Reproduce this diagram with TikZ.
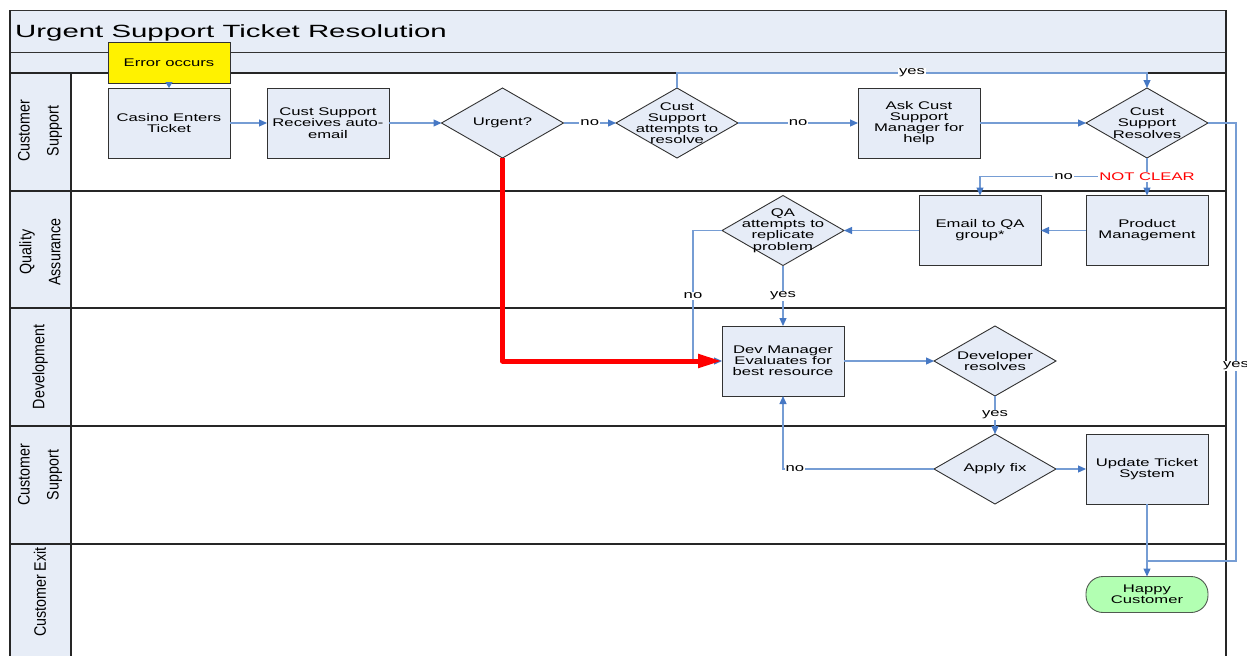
\documentclass[tikz,border=0pt]{standalone}
\usepackage{fontspec}
\setmainfont{Liberation Sans}
\newfontfamily\boxfont[FakeStretch=1.50]{Liberation Sans}
\newfontfamily\titlefont[FakeStretch=1.66]{Liberation Sans}
\newfontfamily\lanefont[FakeStretch=0.86]{Liberation Sans}
\usetikzlibrary{shapes.geometric,arrows.meta}
\definecolor{boxfill}{RGB}{230,236,247}
\definecolor{bandfill}{RGB}{231,237,247}
\definecolor{edgegray}{RGB}{50,50,50}
\definecolor{lineblue}{RGB}{118,157,212}
\definecolor{tipblue}{RGB}{70,120,196}
\definecolor{happyfill}{RGB}{178,255,178}
\definecolor{happyedge}{RGB}{80,90,80}
\tikzset{
 procbox/.style={rectangle, draw=edgegray, line width=0.9pt, fill=boxfill, minimum width=122pt, minimum height=70pt, inner sep=1pt, outer sep=0pt, align=center, font=\boxfont\fontsize{11.1}{11.2}\selectfont},
 decision/.style={diamond, draw=edgegray, line width=0.9pt, fill=boxfill, minimum width=122pt, minimum height=70pt, inner sep=0pt, outer sep=0pt},
 dtext/.style={inner sep=0pt, align=center, font=\boxfont\fontsize{11.1}{11.2}\selectfont},
 conn/.style={draw=lineblue, line width=1.2pt, -{Triangle[length=8pt,width=7pt,color=tipblue]}},
 plainconn/.style={draw=lineblue, line width=1.2pt},
 lbl/.style={fill=white, inner sep=1pt, font=\boxfont\fontsize{11.1}{11.2}\selectfont},
 lanelbl/.style={rotate=90, align=center, inner sep=0pt, font=\lanefont\fontsize{16.6}{29}\selectfont},
 laneline/.style={draw=black!85, line width=1.3pt},
 urgentpath/.style={draw=red, line width=5pt, line join=round, -{Triangle[length=24pt,width=13pt,color=red]}},
}
\begin{document}
\begin{tikzpicture}[x=1pt,y=-1pt]
\useasboundingbox (0,0) rectangle (1247,656);
% bands and lanes
\draw[fill=bandfill, draw=edgegray, line width=1pt] (10,10) rectangle (1226,52);
\draw[fill=bandfill, draw=edgegray, line width=1pt] (10,52) rectangle (1226,73);
\fill[bandfill] (10,73) rectangle (71,656);
\draw[laneline] (10,10) -- (10,656);
\draw[laneline] (71,73) -- (71,656);
\draw[laneline] (1226,10) -- (1226,656);
\foreach \yy in {73,191,308,426,544} \draw[laneline] (10,\yy) -- (1226,\yy);
\node[anchor=base west, inner sep=0pt, font=\titlefont\fontsize{17.7}{20}\selectfont] (title) at (15,37.7) {Urgent Support Ticket Resolution};
% lane labels
\node[lanelbl] (lane1) at (40,131) {Customer\\Support};
\node[lanelbl] (lane2) at (40,252) {Quality\\Assurance};
\node[lanelbl] (lane3) at (40,367) {Development};
\node[lanelbl] (lane4) at (40,475) {Customer\\Support};
\node[lanelbl] (lane5) at (40,592) {Customer Exit};
% nodes
\node[procbox] (casino) at (169,123) {Casino Enters\\Ticket};
\node[procbox] (csra) at (328,123) {Cust Support\\Receives auto-\\email};
\node[decision] (urgent) at (502.5,123) {};
\node[dtext] (urgentt) at (urgent) {Urgent?};
\node[decision] (cstry) at (677,123) {};
\node[dtext] (cstryt) at (cstry) {Cust\\Support\\attempts to\\resolve};
\node[procbox] (ask) at (919,123) {Ask Cust\\Support\\Manager for\\help};
\node[decision] (csr) at (1147,123) {};
\node[dtext] (csrt) at (csr) {Cust\\Support\\Resolves};
\node[procbox] (email) at (980,230.5) {Email to QA\\group*};
\node[procbox] (pm) at (1147,230.5) {Product\\Management};
\node[decision] (qa) at (783,230.5) {};
\node[dtext] (qat) at (qa) {QA\\attempts to\\replicate\\problem};
\node[procbox] (dev) at (783,361) {Dev Manager\\Evaluates for\\best resource};
\node[decision] (devres) at (995,361) {};
\node[dtext] (devrest) at (devres) {Developer\\resolves};
\node[decision] (apply) at (995,469) {};
\node[dtext] (applyt) at (apply) {Apply fix};
\node[procbox] (upd) at (1147,469) {Update Ticket\\System};
\node[draw=happyedge, fill=happyfill, rounded corners=17pt, minimum width=122pt, minimum height=36pt, inner sep=1pt, outer sep=0pt, align=center, line width=0.9pt, font=\boxfont\fontsize{11.1}{11.2}\selectfont] (happy) at (1147,594.5) {Happy\\Customer};
% coordinates for bends
\coordinate (yesL) at (677,73);
\coordinate (yesR) at (1147,73);
\coordinate (rt) at (1236,123);
\coordinate (rb) at (1236,561);
\coordinate (joinpt) at (1147,561);
\coordinate (split) at (1147,176.5);
\coordinate (qn1) at (693,230.5);
\coordinate (qn2) at (693,361);
\coordinate (an) at (783,469);
% connectors
\draw[conn] (casino) -- (csra);
\draw[conn] (csra) -- (urgent);
\draw[conn] (urgent) -- node[lbl] (no1) {no} (cstry);
\draw[conn] (cstry) -- node[lbl] (no2) {no} (ask);
\draw[conn] (ask) -- (csr);
\draw[conn] (cstry.north) -- (yesL) -- node[lbl] (yes1) {yes} (yesR) -- (csr.north);
\draw[plainconn] (csr.east) -- (rt) -- node[lbl, pos=0.555] (yes2) {yes} (rb) -- (joinpt);
\draw[conn] (split) -- node[lbl] (no3) {no} (split -| email.north) -- (email.north);
\draw[conn] (csr.south) -- node[lbl, text=red] (notclear) {NOT CLEAR} (pm.north);
\draw[conn] (pm) -- (email);
\draw[conn] (email) -- (qa);
\draw[conn] (qa.west) -- (qn1) -- node[lbl] (no4) {no} (qn2) -- (dev.west);
\draw[conn] (qa.south) -- node[lbl] (yes3) {yes} (dev.north);
\draw[conn] (dev) -- (devres);
\draw[conn] (devres.south) -- node[lbl] (yes4) {yes} (apply.north);
\draw[conn] (apply) -- (upd);
\draw[conn] (apply.west) -- node[lbl, pos=1, anchor=west, xshift=1pt] (no5) {no} (an) -- (dev.south);
\draw[conn] (upd.south) -- (happy.north);
\draw[urgentpath] (urgent.south) |- (dev.west);
% start event
\node[procbox, fill=yellow, minimum height=41pt] (err) at (169,62.5) {Error occurs};
\draw[draw=lineblue, line width=1.2pt, -{Triangle[length=6pt,width=7pt,color=tipblue]}] (err.south) -- (casino.north);
\end{tikzpicture}
\end{document}
